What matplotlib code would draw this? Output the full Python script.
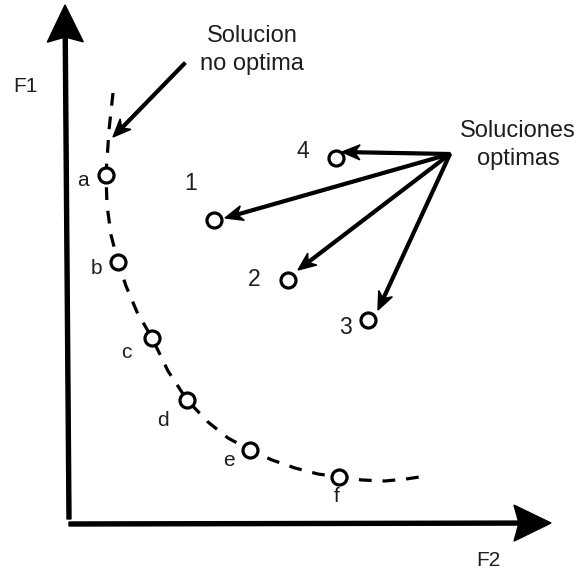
import matplotlib
matplotlib.use("Agg")
import matplotlib.pyplot as plt

# diagram values (canvas units, y grows downward)
front_labels = ["a", "b", "c", "d", "e", "f"]
front_f2 = [106, 118, 152, 187, 250, 339]
front_f1 = [175, 262, 338, 400, 450, 477]

optimal_labels = ["1", "2", "3", "4"]
optimal_f2 = [214, 288, 368, 336]
optimal_f1 = [220, 280, 320, 158]

# dashed guide curve (waypoints)
curve_f2 = [113, 109, 106, 107, 111, 118, 126, 137, 152, 168, 187, 208, 228, 250,
            272, 295, 318, 340, 362, 385, 406, 426]
curve_f1 = [93, 130, 175, 205, 235, 262, 286, 312, 338, 371, 400, 422, 438, 450,
            460, 468, 474, 477, 480, 481, 479, 476]

# label offsets of the point names
front_label_dx = [-23, -22, -26, -24, -21, -2]
front_label_dy = [6, 6, 14, 20, 11, 20]
optimal_label_dx = [-23, -34, -23, -33]
optimal_label_dy = [-37, -1, 7, -6]

FONT = ["Liberation Sans", "DejaVu Sans"]
TXT = "#1e1e1e"

fig = plt.figure(figsize=(5.82, 5.73), dpi=100)
ax = fig.add_axes([0, 0, 1, 1])
ax.set_xlim(0, 582)
ax.set_ylim(573, 0)
ax.axis("off")

# axes arrows
ax.arrow(69, 519, -4, -514, width=4, head_width=36, head_length=37,
         length_includes_head=True, overhang=0.12, color="black", zorder=3)
ax.arrow(69, 524, 482, -1, width=4, head_width=36, head_length=37,
         length_includes_head=True, overhang=0.12, color="black", zorder=3)
ax.text(25, 86, "F1", fontsize=15, family=FONT, color=TXT, ha="center", va="center")
ax.text(488, 561, "F2", fontsize=15, family=FONT, color=TXT, ha="center", va="center")

# dashed front
ax.plot(curve_f2, curve_f1, color="black", lw=2.3, dashes=(4, 3.4),
        solid_joinstyle="round", zorder=2)

# points
ax.plot(front_f2, front_f1, "o", ms=10.8, mew=2.3, mec="black", mfc="white", zorder=4)
ax.plot(optimal_f2, optimal_f1, "o", ms=10.8, mew=2.3, mec="black", mfc="white", zorder=4)

for lab, x, y, dx, dy in zip(front_labels, front_f2, front_f1, front_label_dx, front_label_dy):
    ax.text(x + dx, y + dy, lab, fontsize=15, family=FONT, color=TXT,
            ha="center", va="center")
for lab, x, y, dx, dy in zip(optimal_labels, optimal_f2, optimal_f1, optimal_label_dx, optimal_label_dy):
    ax.text(x + dx, y + dy, lab, fontsize=16.5, family=FONT, color=TXT,
            ha="center", va="center")

# annotations
ax.text(252, 50, "Solucion\nno optima", fontsize=17, family=FONT, color=TXT,
        ha="center", va="center", linespacing=1.3)
ax.text(518, 145, "Soluciones\noptimas", fontsize=17, family=FONT, color=TXT,
        ha="center", va="center", linespacing=1.3)

arrow_kw = dict(width=2.8, head_width=15, head_length=18, length_includes_head=True,
                overhang=0.25, color="black", zorder=5)
ax.arrow(185, 63, 113 - 185, 137 - 63, **arrow_kw)

origin_x, origin_y = 450, 154
tips = [(225, 218), (298, 270), (378, 310), (342, 152)]
for tx, ty in tips:
    ax.arrow(origin_x, origin_y, tx - origin_x, ty - origin_y, **arrow_kw)

fig.savefig("out.png", dpi=100)
